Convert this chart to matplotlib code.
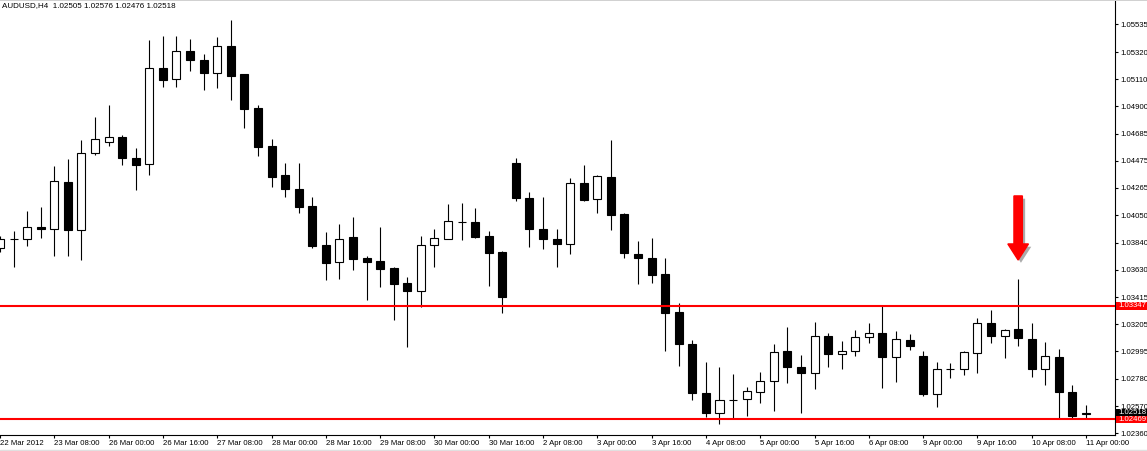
import numpy as np
import matplotlib
matplotlib.use('Agg')
import matplotlib.pyplot as plt
import matplotlib.transforms as mtransforms
from matplotlib.patches import FancyArrow, Rectangle
from matplotlib import patheffects

plt.rcParams['font.family'] = ['Liberation Sans', 'DejaVu Sans']

# AUDUSD H4 candles, 22 Mar 2012 16:00 .. 11 Apr 2012 00:00
symbol = 'AUDUSD,H4'

opens = np.array([
    1.03798, 1.03868, 1.03868, 1.03961, 1.03945, 1.04310, 1.03938, 1.04536, 1.04621, 1.04660,
    1.04497, 1.04450, 1.05196, 1.05111, 1.05328, 1.05258, 1.05157, 1.05367, 1.05150, 1.04885,
    1.04590, 1.04365, 1.04256, 1.04124, 1.03821, 1.03689, 1.03883, 1.03720, 1.03697, 1.03642,
    1.03526, 1.03464, 1.03821, 1.03868, 1.04002, 1.04000, 1.03891, 1.03767, 1.04458, 1.04186,
    1.03945, 1.03868, 1.03829, 1.04303, 1.04178, 1.04349, 1.04062, 1.03751, 1.03720, 1.03596,
    1.03300, 1.03052, 1.02671, 1.02516, 1.02617, 1.02624, 1.02679, 1.02764, 1.02997, 1.02873,
    1.02826, 1.03114, 1.02974, 1.02997, 1.03106, 1.03137, 1.02951, 1.03083, 1.02959, 1.02663,
    1.02858, 1.02858, 1.02982, 1.03215, 1.03114, 1.03168, 1.03091, 1.02858, 1.02951, 1.02679,
    1.02505])

highs = np.array([
    1.03891, 1.03930, 1.04085, 1.04116, 1.04435, 1.04489, 1.04637, 1.04816, 1.04909, 1.04676,
    1.04575, 1.05414, 1.05445, 1.05445, 1.05422, 1.05305, 1.05437, 1.05569, 1.05150, 1.04909,
    1.04645, 1.04458, 1.04458, 1.04194, 1.03922, 1.03984, 1.04039, 1.03736, 1.03961, 1.03650,
    1.03572, 1.03891, 1.03945, 1.04140, 1.04147, 1.04108, 1.03930, 1.03774, 1.04497, 1.04233,
    1.04194, 1.03945, 1.04342, 1.04443, 1.04365, 1.04637, 1.04070, 1.03852, 1.03875, 1.03720,
    1.03370, 1.03083, 1.02912, 1.02873, 1.02819, 1.02718, 1.02834, 1.03052, 1.03184, 1.02966,
    1.03223, 1.03137, 1.03075, 1.03161, 1.03215, 1.03355, 1.03153, 1.03129, 1.02997, 1.02912,
    1.02904, 1.02997, 1.03254, 1.03316, 1.03168, 1.03557, 1.03215, 1.03067, 1.03013, 1.02733,
    1.02576])

lows = np.array([
    1.03767, 1.03650, 1.03813, 1.03875, 1.03736, 1.03736, 1.03704, 1.04520, 1.04590, 1.04443,
    1.04248, 1.04365, 1.05049, 1.05049, 1.05173, 1.05025, 1.05041, 1.04948, 1.04730, 1.04512,
    1.04272, 1.04194, 1.04070, 1.03798, 1.03549, 1.03557, 1.03627, 1.03394, 1.03495, 1.03238,
    1.03028, 1.03339, 1.03650, 1.03868, 1.03860, 1.03875, 1.03502, 1.03293, 1.04163, 1.03805,
    1.03790, 1.03650, 1.03751, 1.04163, 1.04070, 1.03938, 1.03720, 1.03518, 1.03526, 1.02997,
    1.02881, 1.02617, 1.02485, 1.02430, 1.02469, 1.02492, 1.02593, 1.02531, 1.02749, 1.02516,
    1.02702, 1.02873, 1.02858, 1.02959, 1.03060, 1.02710, 1.02756, 1.03005, 1.02648, 1.02562,
    1.02788, 1.02811, 1.02826, 1.03060, 1.02943, 1.03036, 1.02795, 1.02733, 1.02477, 1.02477,
    1.02476])

closes = np.array([
    1.03868, 1.03870, 1.03961, 1.03945, 1.04318, 1.03938, 1.04536, 1.04645, 1.04660, 1.04497,
    1.04443, 1.05196, 1.05103, 1.05328, 1.05258, 1.05157, 1.05367, 1.05134, 1.04878, 1.04582,
    1.04349, 1.04256, 1.04116, 1.03813, 1.03681, 1.03868, 1.03712, 1.03689, 1.03635, 1.03518,
    1.03464, 1.03821, 1.03875, 1.04007, 1.04000, 1.03883, 1.03759, 1.03417, 1.04186, 1.03945,
    1.03868, 1.03829, 1.04303, 1.04171, 1.04357, 1.04054, 1.03759, 1.03720, 1.03588, 1.03293,
    1.03052, 1.02671, 1.02516, 1.02617, 1.02615, 1.02687, 1.02764, 1.02990, 1.02873, 1.02826,
    1.03114, 1.02974, 1.02997, 1.03106, 1.03137, 1.02951, 1.03091, 1.03036, 1.02663, 1.02858,
    1.02856, 1.02990, 1.03215, 1.03114, 1.03161, 1.03098, 1.02858, 1.02959, 1.02679, 1.02492,
    1.02518])

time_labels = ['22 Mar 2012', '23 Mar 08:00', '26 Mar 00:00', '26 Mar 16:00', '27 Mar 08:00',
               '28 Mar 00:00', '28 Mar 16:00', '29 Mar 08:00', '30 Mar 00:00', '30 Mar 16:00',
               '2 Apr 08:00', '3 Apr 00:00', '3 Apr 16:00', '4 Apr 08:00', '5 Apr 00:00',
               '5 Apr 16:00', '6 Apr 08:00', '9 Apr 00:00', '9 Apr 16:00', '10 Apr 08:00',
               '11 Apr 00:00']
label_step = 4

price_ticks = [1.05535, 1.05320, 1.05110, 1.04900, 1.04685, 1.04475, 1.04265, 1.04050,
               1.03840, 1.03630, 1.03415, 1.03205, 1.02995, 1.02780, 1.02570, 1.02360]

levels = [1.03347, 1.02469]      # red horizontal lines
arrow_bar = 75                   # candle marked with the red arrow
arrow_from, arrow_to = 1.04202, 1.03704

# Figure
fig = plt.figure(figsize=(11.47, 4.51), dpi=100)
ax_h = 0.9636
ax = fig.add_axes([0, 0.0344, 0.9717, ax_h])
ymin, ymax = 1.02341, 1.05717
ax.set_xlim(0.147, 82.10)
ax.set_ylim(ymin, ymax)

x = np.arange(len(opens))
up = closes >= opens
body_lo = np.minimum(opens, closes)
body_h = np.abs(closes - opens)

ax.vlines(x, lows, highs, color='black', lw=0.8, zorder=2)
ax.bar(x[up], body_h[up], bottom=body_lo[up], width=0.59, facecolor='white',
       edgecolor='black', linewidth=0.8, zorder=3)
ax.bar(x[~up], body_h[~up], bottom=body_lo[~up], width=0.59, facecolor='black',
       edgecolor='black', linewidth=0.8, zorder=3)

for lv in levels:
    ax.axhline(lv, color='red', lw=1.5, zorder=4)

# red arrow with shadow
arr = FancyArrow(arrow_bar, arrow_from, 0, arrow_to - arrow_from, width=0.62,
                 head_width=1.52, head_length=0.00125, length_includes_head=True,
                 color='red', zorder=6)
arr.set_path_effects([patheffects.SimplePatchShadow(offset=(2, -2), shadow_rgbFace='0.45', alpha=0.6),
                      patheffects.Normal()])
ax.add_patch(arr)

# axes styling
for s in ['left', 'top']:
    ax.spines[s].set_visible(False)
for s in ['right', 'bottom']:
    ax.spines[s].set_linewidth(0.8)
ax.yaxis.tick_right()
ax.set_yticks(price_ticks)
ax.set_yticklabels([f'{p:.5f}' for p in price_ticks])
ax.set_xticks(x[::label_step])
ax.set_xticklabels(time_labels)
for lab in ax.get_xticklabels():
    lab.set_horizontalalignment('left')
# first date label sits partly off the left edge, as in the terminal
first = ax.get_xticklabels()[0]
first.set_transform(first.get_transform() + mtransforms.ScaledTranslation(-3 / 100, 0, fig.dpi_scale_trans))
ax.tick_params(axis='y', direction='out', length=2.2, width=0.8, pad=2.2, labelsize=5.6)
ax.tick_params(axis='x', direction='out', length=2.2, width=0.8, pad=1.0, labelsize=5.6)

# price tags on the axis
blend = mtransforms.blended_transform_factory(ax.transAxes, ax.transData)
px = (ymax - ymin) / (ax_h * 451)
tags = [(levels[0], 'red', 'white'), (levels[1], 'red', 'white'), (closes[-1], 'black', 'white')]
for price, bg, fg in tags:
    ax.add_patch(Rectangle((1.0013, price - 3.7 * px), 0.03, 7.4 * px, transform=blend,
                           facecolor=bg, edgecolor='none', clip_on=False, zorder=7))
    ax.text(1.0031, price, f'{price:.5f}', transform=blend, ha='left', va='center',
            color=fg, fontsize=5.6, clip_on=False, zorder=8)

# header text and frame details
fig.text(2 / 1147, 1 - 6 / 451, f'{symbol}  {opens[-1]:.5f} {highs[-1]:.5f} {lows[-1]:.5f} {closes[-1]:.5f}',
         fontsize=5.8, va='center', ha='left')
fig.add_artist(plt.Line2D([0, 1], [0.999, 0.999], color='#c8c8c8', lw=1.2, transform=fig.transFigure))
fig.add_artist(Rectangle((0, 0), 1, 1.5 / 451, transform=fig.transFigure, color='#e0e0e0'))

fig.savefig('out.png', dpi=100, facecolor='white')
